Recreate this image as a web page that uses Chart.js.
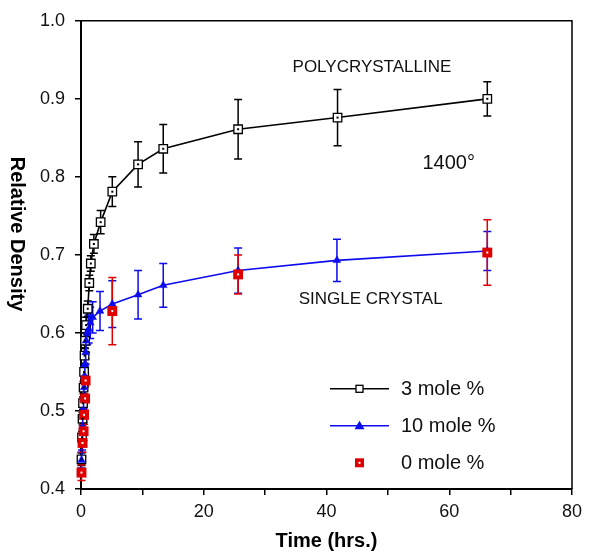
<!DOCTYPE html>
<html>
<head>
<meta charset="utf-8">
<script src="https://cdn.jsdelivr.net/npm/chart.js@4/dist/chart.umd.min.js"></script>
<style>
  body { margin: 0; background: #fff; }
</style>
</head>
<body>
<canvas id="densityChart" width="592" height="558"></canvas>
<script>
// data
const time3 = [0.08, 0.17, 0.25, 0.33, 0.42, 0.5, 0.58, 0.67, 0.83, 1.1, 1.35, 1.6, 2.1, 3.2, 5.1, 9.3, 13.4, 25.6, 41.8, 66.2];
const dens3 = [0.438, 0.466, 0.49, 0.51, 0.53, 0.55, 0.571, 0.59, 0.61, 0.631, 0.664, 0.689, 0.714, 0.742, 0.781, 0.816, 0.836, 0.861, 0.876, 0.900];
const err3 = [0.008, 0.008, 0.008, 0.008, 0.008, 0.01, 0.01, 0.01, 0.01, 0.01, 0.01, 0.01, 0.012, 0.015, 0.019, 0.029, 0.031, 0.038, 0.036, 0.022];

const time10 = [0.08, 0.17, 0.25, 0.33, 0.42, 0.5, 0.58, 0.67, 0.75, 0.83, 1.0, 1.25, 1.5, 1.9, 3.1, 5.1, 9.3, 13.4, 25.6, 41.7, 66.2];
const dens10 = [0.437, 0.46, 0.48, 0.50, 0.515, 0.53, 0.545, 0.56, 0.575, 0.59, 0.60, 0.605, 0.613, 0.62, 0.628, 0.637, 0.649, 0.661, 0.680, 0.693, 0.705];
const err10 = [0.01, 0.01, 0.01, 0.01, 0.012, 0.012, 0.012, 0.012, 0.015, 0.015, 0.015, 0.018, 0.02, 0.02, 0.025, 0.03, 0.031, 0.028, 0.029, 0.027, 0.025];

const time0 = [0.08, 0.25, 0.42, 0.5, 0.67, 0.75, 5.1, 25.6, 66.2];
const dens0 = [0.421, 0.459, 0.474, 0.495, 0.516, 0.539, 0.628, 0.675, 0.703];
const err0 = [0.01, 0.012, 0.012, 0.012, 0.015, 0.028, 0.043, 0.025, 0.042];

const seriesNames = ['3 mole %', '10 mole %', '0 mole %'];
const xTicks = [0, 20, 40, 60, 80];
const yTicks = [0.4, 0.5, 0.6, 0.7, 0.8, 0.9, 1.0];

const notes = [
    { text: 'POLYCRYSTALLINE', x: 47.4, y: 0.94, size: 17 },
    { text: '1400°', x: 59.9, y: 0.817, size: 20 },
    { text: 'SINGLE CRYSTAL', x: 47.2, y: 0.643, size: 17 }
];

const FONT = '"Liberation Sans", Arial, sans-serif';
const BLACK = '#000000';
const BLUE = '#0c0cee';
const RED = '#e00000';

function toPoints(xs, ys) {
    return xs.map((x, i) => ({ x: x, y: ys[i] }));
}

const errorList = [err3, err10, err0];

// error bars, drawn under the markers
const errorBarPlugin = {
    id: 'errorBars',
    beforeDatasetsDraw(chart) {
        const ctx = chart.ctx;
        const xs = chart.scales.x;
        const ys = chart.scales.y;
        ctx.save();
        chart.data.datasets.forEach((ds, d) => {
            const errs = errorList[d];
            ctx.strokeStyle = ds.borderColor;
            ctx.lineWidth = 1.5;
            ds.data.forEach((p, i) => {
                const px = xs.getPixelForValue(p.x);
                const top = ys.getPixelForValue(p.y + errs[i]);
                const bot = ys.getPixelForValue(p.y - errs[i]);
                ctx.beginPath();
                ctx.moveTo(px, top);
                ctx.lineTo(px, bot);
                ctx.moveTo(px - 4, top);
                ctx.lineTo(px + 4, top);
                ctx.moveTo(px - 4, bot);
                ctx.lineTo(px + 4, bot);
                ctx.stroke();
            });
        });
        ctx.restore();
    },
    afterDatasetsDraw(chart) {
        // little centre dots in the square markers
        const ctx = chart.ctx;
        const xs = chart.scales.x;
        const ys = chart.scales.y;
        ctx.save();
        [0, 2].forEach(d => {
            const ds = chart.data.datasets[d];
            ctx.fillStyle = d === 0 ? BLACK : '#ffffff';
            ds.data.forEach(p => {
                ctx.fillRect(xs.getPixelForValue(p.x) - 1, ys.getPixelForValue(p.y) - 1, 2, 2);
            });
        });
        ctx.restore();
    }
};

const decorPlugin = {
    id: 'decor',
    afterDraw(chart) {
        const ctx = chart.ctx;
        const a = chart.chartArea;
        const xs = chart.scales.x;
        const ys = chart.scales.y;
        ctx.save();

        // frame top and right
        ctx.strokeStyle = BLACK;
        ctx.lineWidth = 1.5;
        ctx.beginPath();
        ctx.moveTo(a.left, a.top);
        ctx.lineTo(a.right, a.top);
        ctx.lineTo(a.right, a.bottom);
        ctx.stroke();

        // notes
        ctx.fillStyle = '#111';
        ctx.textAlign = 'center';
        ctx.textBaseline = 'middle';
        notes.forEach(n => {
            ctx.font = n.size + 'px ' + FONT;
            ctx.fillText(n.text, xs.getPixelForValue(n.x), ys.getPixelForValue(n.y));
        });

        // axis titles
        ctx.fillStyle = BLACK;
        ctx.font = 'bold 20px ' + FONT;
        ctx.fillText('Time (hrs.)', (a.left + a.right) / 2, 541);
        ctx.save();
        ctx.translate(17, 234);
        ctx.rotate(Math.PI / 2);
        ctx.fillText('Relative Density', 0, 0);
        ctx.restore();

        // legend
        const rowY = [a.top + 368, a.top + 405, a.top + 442];
        const lineX0 = a.left + 249;
        const lineX1 = a.left + 308;
        const markX = (lineX0 + lineX1) / 2;
        ctx.textAlign = 'left';
        ctx.font = '20px ' + FONT;
        chart.data.datasets.forEach((ds, d) => {
            const y = rowY[d];
            if (ds.showLine) {
                ctx.strokeStyle = ds.borderColor;
                ctx.lineWidth = 1.5;
                ctx.beginPath();
                ctx.moveTo(lineX0, y);
                ctx.lineTo(lineX1, y);
                ctx.stroke();
            }
            if (d === 0) {
                ctx.fillStyle = '#fff';
                ctx.fillRect(markX - 3.5, y - 3.5, 7, 7);
                ctx.strokeStyle = BLACK;
                ctx.lineWidth = 1.3;
                ctx.strokeRect(markX - 3.5, y - 3.5, 7, 7);
            } else if (d === 1) {
                ctx.fillStyle = BLUE;
                ctx.beginPath();
                ctx.moveTo(markX, y - 5);
                ctx.lineTo(markX + 5, y + 3.5);
                ctx.lineTo(markX - 5, y + 3.5);
                ctx.closePath();
                ctx.fill();
            } else {
                ctx.fillStyle = RED;
                ctx.fillRect(markX - 4.5, y - 4.5, 9, 9);
                ctx.fillStyle = '#fff';
                ctx.fillRect(markX - 1, y - 1, 2, 2);
            }
            ctx.fillStyle = '#111';
            ctx.fillText(seriesNames[d], a.left + 320, y + 1);
        });

        ctx.restore();
    }
};

const chart = new Chart(document.getElementById('densityChart'), {
    type: 'scatter',
    data: {
        datasets: [
            {
                label: seriesNames[0],
                data: toPoints(time3, dens3),
                showLine: true,
                borderColor: BLACK,
                borderWidth: 1.6,
                pointStyle: 'rect',
                pointRadius: 6,
                pointBorderWidth: 1.3,
                pointBackgroundColor: '#ffffff',
                pointBorderColor: BLACK,
                clip: false,
                order: 2
            },
            {
                label: seriesNames[1],
                data: toPoints(time10, dens10),
                showLine: true,
                borderColor: BLUE,
                borderWidth: 1.6,
                pointStyle: 'triangle',
                pointRadius: 4.5,
                pointBorderWidth: 0.5,
                pointBackgroundColor: BLUE,
                pointBorderColor: BLUE,
                clip: false,
                order: 1
            },
            {
                label: seriesNames[2],
                data: toPoints(time0, dens0),
                showLine: false,
                borderColor: RED,
                pointStyle: 'rect',
                pointRadius: 7,
                pointBorderWidth: 0,
                pointBackgroundColor: RED,
                pointBorderColor: RED,
                clip: false,
                order: 0
            }
        ]
    },
    options: {
        responsive: false,
        animation: false,
        layout: { padding: { top: 14, right: 20, left: 0, bottom: 0 } },
        plugins: {
            legend: { display: false },
            tooltip: { enabled: false }
        },
        scales: {
            x: {
                type: 'linear',
                min: 0,
                max: 80,
                afterFit: s => { s.height = 69; },
                afterBuildTicks: s => {
                    s.ticks = [];
                    for (let v = 0; v <= 80; v += 10) s.ticks.push({ value: v });
                },
                ticks: {
                    callback: v => (xTicks.includes(v) ? String(v) : ''),
                    font: { family: FONT, size: 18 },
                    color: '#111',
                    padding: 6,
                    maxRotation: 0,
                    autoSkip: false
                },
                grid: {
                    drawOnChartArea: false,
                    drawTicks: true,
                    tickLength: 6,
                    color: BLACK,
                    lineWidth: 1.5
                },
                border: { display: true, color: BLACK, width: 2 }
            },
            y: {
                type: 'linear',
                min: 0.4,
                max: 1.0,
                afterFit: s => { s.width = 81; },
                afterBuildTicks: s => {
                    s.ticks = yTicks.map(v => ({ value: v }));
                },
                ticks: {
                    callback: v => v.toFixed(1),
                    font: { family: FONT, size: 18 },
                    color: '#111',
                    padding: 10,
                    autoSkip: false
                },
                grid: {
                    drawOnChartArea: false,
                    drawTicks: true,
                    tickLength: 6,
                    color: BLACK,
                    lineWidth: 1.5
                },
                border: { display: true, color: BLACK, width: 2 }
            }
        }
    },
    plugins: [errorBarPlugin, decorPlugin]
});
</script>
</body>
</html>
